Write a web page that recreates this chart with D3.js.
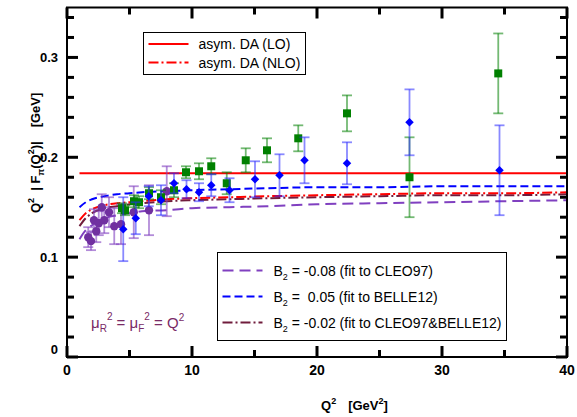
<!DOCTYPE html>
<html>
<head>
<meta charset="utf-8">
<script src="https://cdn.jsdelivr.net/npm/d3@7"></script>
<style>
  body { margin: 0; background: #fff; }
  svg { font-family: "Liberation Sans", Arial, sans-serif; }
</style>
</head>
<body>
<svg id="chart" width="577" height="417"></svg>
<script>
// --- data ---
var cleoQ2  = [1.70, 1.92, 2.16, 2.34, 2.54, 2.78, 2.98, 3.36, 3.78, 4.32, 5.34, 6.56, 7.98];
var cleoF   = [0.120, 0.116, 0.137, 0.126, 0.134, 0.150, 0.137, 0.145, 0.131, 0.133, 0.145, 0.147, 0.166];
var cleoErr = [0.010, 0.009, 0.011, 0.011, 0.012, 0.013, 0.013, 0.015, 0.018, 0.020, 0.026, 0.025, 0.025];

var babarQ2  = [4.4, 4.64, 5.36, 5.76, 6.56, 7.52, 8.56, 9.52, 10.56, 11.54, 12.78, 14.3, 16.0, 18.5, 22.4, 27.4, 34.5];
var babarF   = [0.149, 0.147, 0.156, 0.155, 0.164, 0.160, 0.167, 0.185, 0.186, 0.191, 0.174, 0.197, 0.207, 0.219, 0.244, 0.180, 0.284];
var babarErr = [0.005, 0.005, 0.006, 0.006, 0.006, 0.007, 0.007, 0.006, 0.008, 0.008, 0.011, 0.012, 0.012, 0.013, 0.018, 0.040, 0.040];

var belleQ2  = [4.5, 5.5, 6.54, 7.52, 8.56, 9.56, 10.56, 11.54, 13.0, 15.04, 17.0, 19.0, 22.4, 27.4, 34.6];
var belleF   = [0.128, 0.139, 0.161, 0.157, 0.174, 0.168, 0.165, 0.172, 0.167, 0.178, 0.182, 0.197, 0.194, 0.235, 0.187];
var belleErr = [0.032, 0.016, 0.010, 0.015, 0.010, 0.009, 0.009, 0.011, 0.012, 0.018, 0.021, 0.023, 0.021, 0.033, 0.045];

var curveQ2   = [1, 1.5, 2, 3, 4, 5, 6, 8, 10, 13, 16, 20, 25, 30, 35, 40];
var lo        = [0.184, 0.184, 0.184, 0.184, 0.184, 0.184, 0.184, 0.184, 0.184, 0.184, 0.184, 0.184, 0.184, 0.184, 0.184, 0.184];
var nlo       = [0.137, 0.144, 0.148, 0.152, 0.154, 0.155, 0.156, 0.158, 0.159, 0.160, 0.161, 0.162, 0.163, 0.164, 0.164, 0.165];
var b2cleo    = [0.118, 0.127, 0.132, 0.139, 0.142, 0.144, 0.146, 0.147, 0.149, 0.150, 0.151, 0.153, 0.154, 0.155, 0.156, 0.157];
var b2belle   = [0.150, 0.155, 0.158, 0.161, 0.163, 0.164, 0.165, 0.166, 0.167, 0.168, 0.169, 0.170, 0.170, 0.171, 0.171, 0.171];
var b2both    = [0.131, 0.139, 0.144, 0.149, 0.151, 0.153, 0.154, 0.156, 0.157, 0.158, 0.159, 0.160, 0.161, 0.162, 0.162, 0.163];

var xTicks = [0, 10, 20, 30, 40];
var xMinor = [5, 15, 25, 35];
var yTicks = [0, 0.1, 0.2, 0.3];
var yMinor = [0.02, 0.04, 0.06, 0.08, 0.12, 0.14, 0.16, 0.18, 0.22, 0.24, 0.26, 0.28, 0.32, 0.34];

var margin = {top: 7.5, right: 10, bottom: 60, left: 67},
    width = 500,
    height = 349.5;

var svg = d3.select("#chart");
var g = svg.append("g").attr("transform", "translate(" + margin.left + "," + margin.top + ")");

var x = d3.scaleLinear().domain([0, 40]).range([0, width]);
var y = d3.scaleLinear().domain([0, 0.35]).range([height, 0]);

// curves
var line = d3.line().curve(d3.curveMonotoneX)
  .x(function(d) { return x(d[0]); }).y(function(d) { return y(d[1]); });
var curves = [
  {v: b2cleo,  color: "#8040c0", dash: "11,6"},
  {v: b2belle, color: "#0000ff", dash: "8,4"},
  {v: b2both,  color: "#701c3c", dash: "10,3,2,3"},
  {v: nlo,     color: "#ff0000", dash: "10,3,2,3"},
  {v: lo,      color: "#ff0000", dash: null}
];
curves.forEach(function(c) {
  g.append("path").datum(d3.zip(curveQ2, c.v))
    .attr("d", line).attr("fill", "none").attr("stroke", c.color)
    .attr("stroke-width", 2).attr("stroke-dasharray", c.dash);
});

// data sets
function drawSet(q, f, e, color, barColor, shape) {
  var data = d3.zip(q, f, e);
  var grp = g.append("g");
  var bars = grp.selectAll("g.bar").data(data).enter().append("g").attr("stroke", barColor).attr("stroke-width", 1.8);
  bars.append("line").attr("x1", function(d) { return x(d[0]); }).attr("x2", function(d) { return x(d[0]); })
    .attr("y1", function(d) { return y(d[1] - d[2]); }).attr("y2", function(d) { return y(d[1] + d[2]); });
  [-1, 1].forEach(function(s) {
    bars.append("line").attr("x1", function(d) { return x(d[0]) - 5; }).attr("x2", function(d) { return x(d[0]) + 5; })
      .attr("y1", function(d) { return y(d[1] + s * d[2]); }).attr("y2", function(d) { return y(d[1] + s * d[2]); });
  });
  grp.selectAll("path.m").data(data).enter().append("path")
    .attr("d", d3.symbol().type(shape.type).size(shape.size))
    .attr("transform", function(d) { return "translate(" + x(d[0]) + "," + y(d[1]) + ")" + (shape.rot ? " rotate(45)" : ""); })
    .attr("fill", color);
}
drawSet(cleoQ2, cleoF, cleoErr, "#7030a0", "rgba(128,64,192,0.6)", {type: d3.symbolCircle, size: 55});
drawSet(babarQ2, babarF, babarErr, "#008000", "rgba(0,128,0,0.55)", {type: d3.symbolSquare, size: 64});
drawSet(belleQ2, belleF, belleErr, "#0000ff", "rgba(40,40,255,0.55)", {type: d3.symbolSquare, size: 36, rot: true});

// frame
g.append("rect").attr("width", width).attr("height", height)
  .attr("fill", "none").attr("stroke", "#000").attr("stroke-width", 2);

// inward ticks on all four sides, as thin filled bars
var tickG = g.append("g").attr("fill", "#000");
function xTickBars(vals, len) {
  tickG.selectAll(null).data(vals).enter().append("rect")
    .attr("x", function(d) { return x(d) - 1.5; }).attr("y", height - len).attr("width", 3).attr("height", len);
  tickG.selectAll(null).data(vals).enter().append("rect")
    .attr("x", function(d) { return x(d) - 1.5; }).attr("y", 0).attr("width", 3).attr("height", len);
}
function yTickBars(vals, len) {
  tickG.selectAll(null).data(vals).enter().append("rect")
    .attr("x", 0).attr("y", function(d) { return y(d) - 1.5; }).attr("width", len).attr("height", 3);
  tickG.selectAll(null).data(vals).enter().append("rect")
    .attr("x", width - len).attr("y", function(d) { return y(d) - 1.5; }).attr("width", len).attr("height", 3);
}
xTickBars(xTicks, 11);
xTickBars(xMinor, 7);
yTickBars(yTicks, 11);
yTickBars(yMinor, 7);

g.selectAll(null).data(xTicks).enter().append("text")
  .attr("x", function(d) { return x(d); }).attr("y", height + 18)
  .attr("text-anchor", "middle").attr("font-weight", "bold").attr("font-size", 14)
  .text(function(d) { return d; });
g.selectAll(null).data(yTicks).enter().append("text")
  .attr("x", -9).attr("y", function(d) { return y(d) + (d === 0 ? -3 : 5); })
  .attr("text-anchor", "end").attr("font-weight", "bold").attr("font-size", 13)
  .text(function(d) { return d === 0 ? "0" : d3.format(".1f")(d); });

// legends
function legend(x0, y0, w, h, items, textX) {
  g.append("rect").attr("x", x0).attr("y", y0).attr("width", w).attr("height", h)
    .attr("fill", "#fff").attr("stroke", "#000").attr("stroke-width", 1);
  items.forEach(function(it) {
    var yy = y0 + it.offset;
    g.append("line").attr("x1", x0 + 5).attr("x2", x0 + 45).attr("y1", yy).attr("y2", yy)
      .attr("stroke", it.color).attr("stroke-width", 2).attr("stroke-dasharray", it.dash);
    var t = g.append("text").attr("x", x0 + textX).attr("y", yy + 5).attr("font-size", 14);
    it.text(t);
  });
}
legend(76.5, 25, 162, 42, [
  {offset: 11.5, color: "#ff0000", dash: null, text: function(t) { t.text("asym. DA (LO)"); }},
  {offset: 30, color: "#ff0000", dash: "10,3,2,3", text: function(t) { t.text("asym. DA (NLO)"); }}
], 55);

function b2text(val, rest) {
  return function(t) {
    t.attr("xml:space", "preserve");
    t.append("tspan").text("B");
    t.append("tspan").attr("font-size", 9).attr("dy", 4).text("2");
    t.append("tspan").attr("dy", -4).text(" = " + val + " " + rest);
  };
}
legend(150.5, 245, 289, 88, [
  {offset: 18, color: "#8040c0", dash: "11,6", text: b2text("-0.08", "(fit to CLEO97)")},
  {offset: 44, color: "#0000ff", dash: "8,4", text: b2text("\u00a00.05", "(fit to BELLE12)")},
  {offset: 70, color: "#701c3c", dash: "10,3,2,3", text: b2text("-0.02", "(fit to CLEO97&BELLE12)")}
], 56);

// scale annotation
var mu = g.append("text").attr("x", 24).attr("y", 320).attr("fill", "#7a2a66").attr("font-size", 15);
mu.append("tspan").text("\u03bc");
mu.append("tspan").attr("font-size", 10).attr("dy", 4).text("R");
mu.append("tspan").attr("font-size", 10).attr("dy", -12).text("2");
mu.append("tspan").attr("dy", 8).text(" = \u03bc");
mu.append("tspan").attr("font-size", 10).attr("dy", 4).text("F");
mu.append("tspan").attr("font-size", 10).attr("dy", -12).text("2");
mu.append("tspan").attr("dy", 8).text(" = Q");
mu.append("tspan").attr("font-size", 10).attr("dy", -7).text("2");

// axis titles
var xt = svg.append("text").attr("x", 321).attr("y", 410).attr("font-size", 13).attr("font-weight", "bold");
xt.append("tspan").text("Q");
xt.append("tspan").attr("font-size", 9).attr("dy", -6).text("2");
xt.append("tspan").attr("dy", 6).attr("dx", 12).text("[GeV");
xt.append("tspan").attr("font-size", 9).attr("dy", -6).text("2");
xt.append("tspan").attr("dy", 6).text("]");

var yt = svg.append("text").attr("transform", "translate(40,213) rotate(-90)").attr("font-size", 13).attr("font-weight", "bold");
yt.append("tspan").text("Q");
yt.append("tspan").attr("font-size", 9).attr("dy", -6).text("2");
yt.append("tspan").attr("dy", 6).attr("dx", 7).text("| F");
yt.append("tspan").attr("font-size", 9).attr("dy", 4).text("\u03c0");
yt.append("tspan").attr("dy", -4).text("(Q");
yt.append("tspan").attr("font-size", 9).attr("dy", -6).text("2");
yt.append("tspan").attr("dy", 6).text(")|");
yt.append("tspan").attr("dx", 14).text("[GeV]");
</script>
</body>
</html>
